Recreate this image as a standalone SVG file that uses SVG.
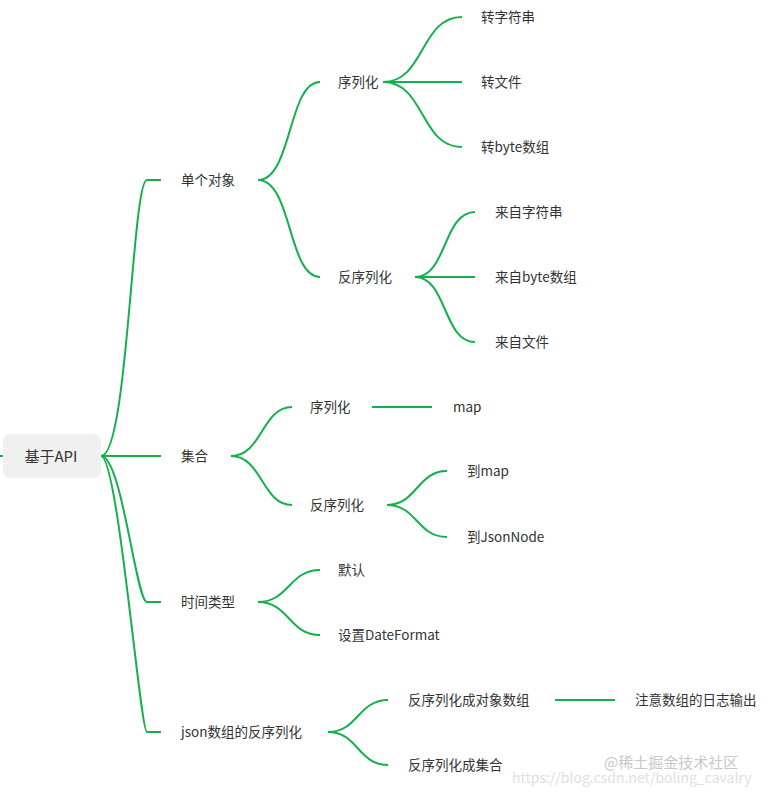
<svg xmlns="http://www.w3.org/2000/svg" width="770" height="793" viewBox="0 0 770 793">
<style>
.c{fill:none;stroke:#14b04c;stroke-width:2}
text{font-family:"Noto Sans CJK SC","Noto Sans",sans-serif;font-size:13.5px;fill:#333;dominant-baseline:central}
.r{font-size:15px;text-anchor:middle}
.w{fill:#c8c8c8;font-size:15px}
</style>
<rect width="770" height="793" fill="#fff"/>
<g id="connectors">
<path class="c" d="M0,456H3"/>
<path class="c" d="M101,456C128,456 132,180 147,180H161"/>
<path class="c" d="M101,456H161"/>
<path class="c" d="M101,456C122,456 136,602 147,602H161"/>
<path class="c" d="M101,456C118,456 140,732 147,732H161"/>
<path class="c" d="M258,180C292,180 288,82 320,82"/>
<path class="c" d="M258,180C292,180 288,277 320,277"/>
<path class="c" d="M383,82C425,82 420,17 462,17"/>
<path class="c" d="M383,82H462"/>
<path class="c" d="M383,82C425,82 420,147 462,147"/>
<path class="c" d="M415,277C447,277 443,212 475,212"/>
<path class="c" d="M415,277H475"/>
<path class="c" d="M415,277C447,277 443,342 475,342"/>
<path class="c" d="M231,456C262,456 262,407 292,407"/>
<path class="c" d="M231,456C262,456 262,505 292,505"/>
<path class="c" d="M372,407H432"/>
<path class="c" d="M387,505C417,505 417,471 447,471"/>
<path class="c" d="M387,505C417,505 417,537 447,537"/>
<path class="c" d="M258,602C289,602 289,570 320,570"/>
<path class="c" d="M258,602C289,602 289,635 320,635"/>
<path class="c" d="M328,732C358,732 358,700 388,700"/>
<path class="c" d="M328,732C358,732 358,765 388,765"/>
<path class="c" d="M555,700H615"/>
</g>
<g id="root"><rect x="3" y="434" width="98" height="44" rx="7" fill="#f0f0f0"/><text class="r" x="51" y="455">基于API</text></g>
<g id="n1"><text x="181" y="179">单个对象</text></g>
<g id="n2"><text x="181" y="455">集合</text></g>
<g id="n3"><text x="181" y="601">时间类型</text></g>
<g id="n4"><text x="181" y="731">json数组的反序列化</text></g>
<g id="n11"><text x="338" y="81">序列化</text></g>
<g id="n12"><text x="338" y="276">反序列化</text></g>
<g id="n111"><text x="481" y="16">转字符串</text></g>
<g id="n112"><text x="481" y="81">转文件</text></g>
<g id="n113"><text x="481" y="146">转byte数组</text></g>
<g id="n121"><text x="495" y="211">来自字符串</text></g>
<g id="n122"><text x="495" y="276">来自byte数组</text></g>
<g id="n123"><text x="495" y="341">来自文件</text></g>
<g id="n21"><text x="310" y="406">序列化</text></g>
<g id="n22"><text x="310" y="504">反序列化</text></g>
<g id="n211"><text x="453" y="406">map</text></g>
<g id="n221"><text x="467" y="470">到map</text></g>
<g id="n222"><text x="467" y="536">到JsonNode</text></g>
<g id="n31"><text x="338" y="569">默认</text></g>
<g id="n32"><text x="338" y="634">设置DateFormat</text></g>
<g id="n41"><text x="408" y="699">反序列化成对象数组</text></g>
<g id="n42"><text x="408" y="764">反序列化成集合</text></g>
<g id="n411"><text x="635" y="699">注意数组的日志输出</text></g>
<text class="w" x="604" y="761">@稀土掘金技术社区</text>
<text class="w" x="512" y="777" style="font-size:14px;fill:#e0e0e0">https://blog.csdn.net/boling_cavalry</text>
</svg>
